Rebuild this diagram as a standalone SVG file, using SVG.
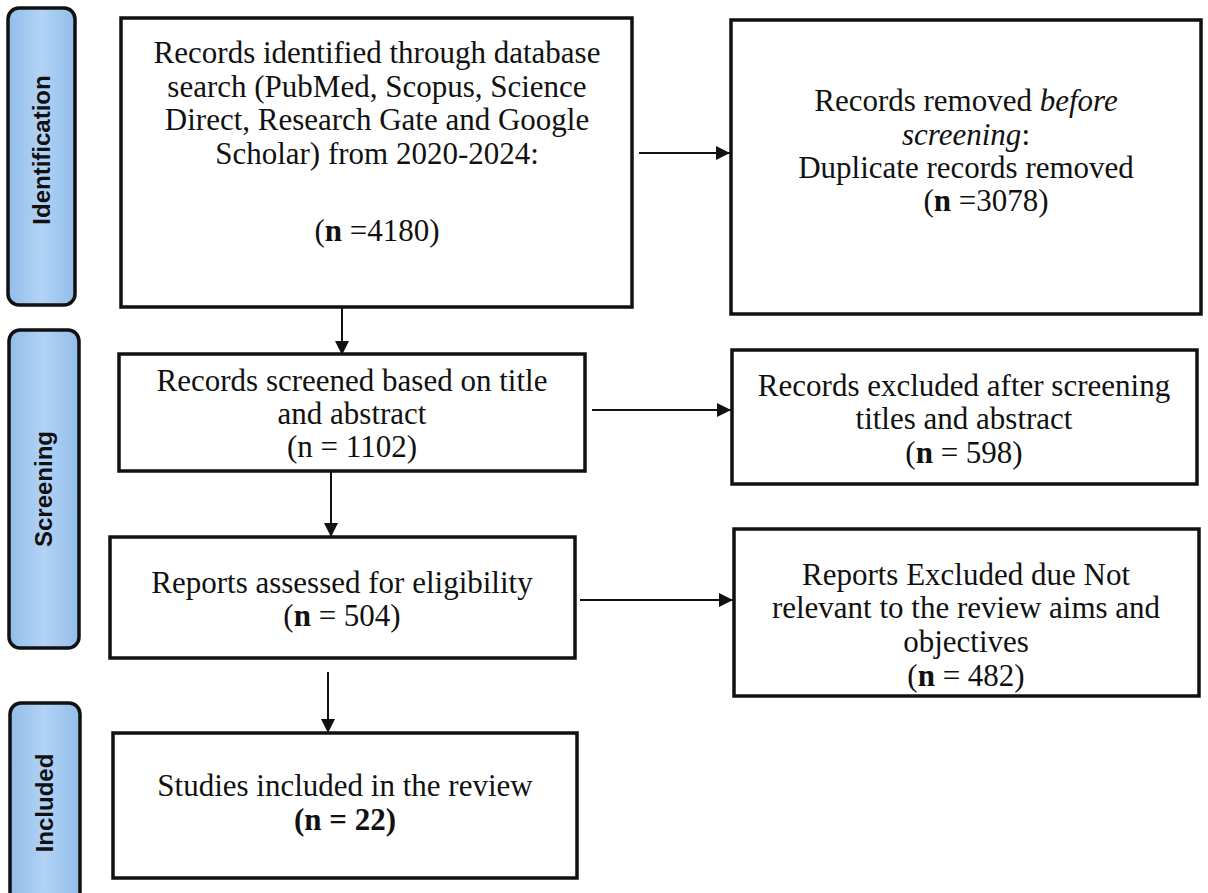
<svg xmlns="http://www.w3.org/2000/svg" width="1208" height="893" viewBox="0 0 1208 893">
<style>
.box{fill:#fff;stroke:#111;stroke-width:3.5}
.pill{fill:url(#pg);stroke:#111;stroke-width:3.5}
.t{font-family:"Liberation Serif","Times New Roman",serif;font-size:31px;fill:#111;text-anchor:middle}
.pt{font-family:"Liberation Sans",Arial,sans-serif;font-weight:bold;font-size:24px;fill:#111;text-anchor:middle}
.b{font-weight:bold}
.i{font-style:italic}
.c{stroke:#111;stroke-width:2;fill:none;marker-end:url(#ah)}
</style>
<defs>
<linearGradient id="pg" x1="0" y1="0" x2="1" y2="0">
<stop offset="0" stop-color="#92bdea"/>
<stop offset="0.5" stop-color="#b2d3f5"/>
<stop offset="1" stop-color="#92bdea"/>
</linearGradient>
<marker id="ah" viewBox="0 0 14 14" refX="14" refY="7" markerWidth="14" markerHeight="14" markerUnits="userSpaceOnUse" orient="auto">
<path d="M0,0 L14,7 L0,14 Z" fill="#111"/>
</marker>
</defs>
<rect width="1208" height="893" fill="#fff"/>

<g id="phase-identification">
<rect class="pill" x="8" y="8" width="67" height="297" rx="11"/>
<text class="pt" transform="translate(50,150) rotate(-90)">Identification</text>
</g>
<g id="phase-screening">
<rect class="pill" x="9" y="330" width="70" height="318" rx="11"/>
<text class="pt" transform="translate(52,489) rotate(-90)">Screening</text>
</g>
<g id="phase-included">
<rect class="pill" x="10" y="703" width="70" height="200" rx="11"/>
<text class="pt" transform="translate(53,803) rotate(-90)">Included</text>
</g>

<g id="connectors">
<line class="c" x1="639" y1="153" x2="730" y2="153"/>
<line class="c" x1="342" y1="289" x2="342" y2="355"/>
<line class="c" x1="592" y1="410" x2="731" y2="410"/>
<line class="c" x1="331" y1="471" x2="331" y2="537"/>
<line class="c" x1="580" y1="600" x2="733" y2="600"/>
<line class="c" x1="328" y1="672" x2="328" y2="733"/>
</g>

<g id="n-identified">
<rect class="box" x="121" y="18" width="511" height="289"/>
<text class="t" x="377" y="63">Records identified through database</text>
<text class="t" x="377" y="97">search (PubMed, Scopus, Science</text>
<text class="t" x="377" y="130">Direct, Research Gate and Google</text>
<text class="t" x="377" y="164">Scholar) from 2020-2024:</text>
<text class="t" x="377" y="241">(<tspan class="b">n</tspan> =4180)</text>
</g>

<g id="n-removed">
<rect class="box" x="731" y="20" width="470" height="294"/>
<text class="t" x="966" y="111">Records removed <tspan class="i">before</tspan></text>
<text class="t" x="966" y="145"><tspan class="i">screening</tspan>:</text>
<text class="t" x="966" y="178">Duplicate records removed</text>
<text class="t" x="986" y="211">(<tspan class="b">n</tspan> =3078)</text>
</g>

<g id="n-screened">
<rect class="box" x="119" y="354" width="466" height="117"/>
<text class="t" x="352" y="391">Records screened based on title</text>
<text class="t" x="352" y="424">and abstract</text>
<text class="t" x="352" y="457">(n = 1102)</text>
</g>

<g id="n-excluded">
<rect class="box" x="732" y="350" width="465" height="134"/>
<text class="t" x="964" y="396">Records excluded after screening</text>
<text class="t" x="964" y="429">titles and abstract</text>
<text class="t" x="964" y="463">(<tspan class="b">n</tspan> = 598)</text>
</g>

<g id="n-assessed">
<rect class="box" x="110" y="537" width="465" height="121"/>
<text class="t" x="342" y="593">Reports assessed for eligibility</text>
<text class="t" x="342" y="626">(<tspan class="b">n</tspan> = 504)</text>
</g>

<g id="n-reports-excluded">
<rect class="box" x="734" y="529" width="465" height="167"/>
<text class="t" x="966" y="585">Reports Excluded due Not</text>
<text class="t" x="966" y="618">relevant to the review aims and</text>
<text class="t" x="966" y="652">objectives</text>
<text class="t" x="966" y="686">(<tspan class="b">n</tspan> = 482)</text>
</g>

<g id="n-included">
<rect class="box" x="113" y="733" width="464" height="145"/>
<text class="t" x="345" y="796">Studies included in the review</text>
<text class="t b" x="345" y="830">(n = 22)</text>
</g>
</svg>
